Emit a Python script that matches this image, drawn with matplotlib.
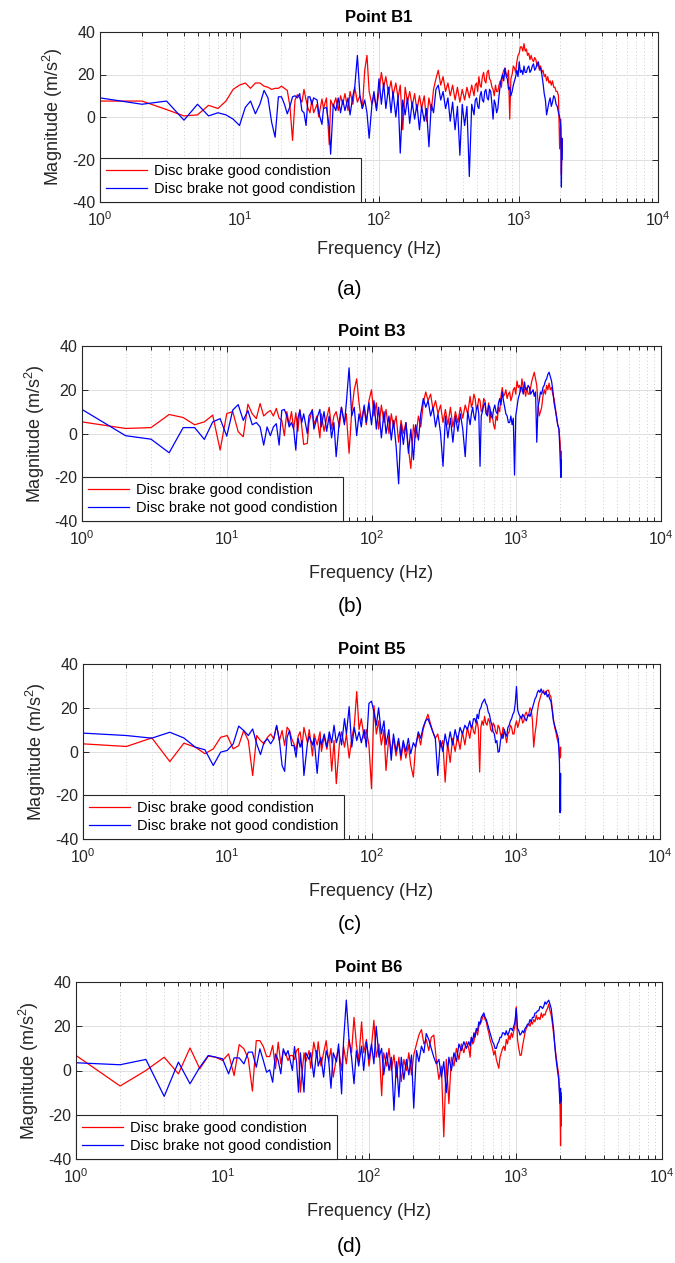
import matplotlib
matplotlib.use("Agg")
import matplotlib.pyplot as plt
from matplotlib.ticker import LogLocator, NullFormatter, FixedLocator

plt.rcParams['font.family'] = ['Liberation Sans', 'DejaVu Sans']
plt.rcParams['mathtext.fontset'] = 'custom'
plt.rcParams['mathtext.rm'] = 'Liberation Sans'
plt.rcParams['mathtext.it'] = 'Liberation Sans:italic'
plt.rcParams['mathtext.bf'] = 'Liberation Sans:bold'
plt.rcParams['axes.unicode_minus'] = False

# ---------------- data ----------------
freq = [
    1, 2, 3, 4, 5, 6, 7, 8, 9, 10,
    11, 12, 13, 14, 15, 16, 17, 18, 19, 20,
    21, 22, 23, 24, 25, 26, 27, 28, 29, 30,
    31, 32, 33, 34, 36, 37, 39, 40, 42, 44,
    45, 47, 49, 51, 53, 55, 57, 60, 62, 65,
    67, 70, 73, 76, 79, 82, 85, 89, 92, 96,
    100, 104, 108, 112, 117, 122, 126, 132, 137, 142,
    148, 154, 160, 166, 173, 180, 187, 195, 202, 211,
    219, 228, 237, 246, 256, 266, 277, 288, 300, 312,
    324, 337, 351, 365, 380, 395, 411, 427, 444, 462,
    480, 490, 500, 510, 520, 530, 540, 551, 562, 573,
    584, 596, 608, 620, 632, 645, 657, 670, 684, 697,
    711, 725, 740, 754, 769, 784, 800, 816, 832, 848,
    865, 882, 900, 918, 936, 954, 973, 992, 1012, 1032,
    1053, 1074, 1095, 1117, 1139, 1161, 1184, 1208, 1232, 1256,
    1281, 1306, 1332, 1359, 1386, 1413, 1441, 1470, 1499, 1529,
    1559, 1590, 1621, 1653, 1686, 1719, 1753, 1788, 1824, 1860,
    1896, 1934, 1972, 2010, 2030, 2045, 2048]

b1_good = [
    7.5, 7.5, 3.5, 0.5, 1, 5.5, 4, 7.5, 13, 15,
    16, 13.5, 16, 16, 14.5, 14, 13, 13.5, 13.5, 14.5,
    13.5, 12.5, 5, -11, 8, 10.5, 9, 7, 13, 8,
    4, 2, 8, 2, 6, 0, 8.5, 4, 9, -13,
    8, 5, 9, 3, 10, 6, 11, 3, 12, 6,
    14, 7, 10, 4, 22, 29, 12, 6, 10, 4,
    12, 21, 14, 19, 11, 17, 10, 16, 9, 15,
    -6, 14, 7, 12, 5, 11, 3, 10, 4, 10,
    -2, 9, 3, 13, 18, 22, 15, 19, 12, 16,
    10, 15, 8, 14, 7, 13, 8, 14, 9, 15,
    10, 15, 16, 12, 19, 15, 14, 19, 21, 17,
    16, 21, 22, 18, 17, 14, 13, 10, 15, 12,
    12, 15, 17, 14, 20, 22, 23, 20, 19, 22,
    -1, 18, 20, 24, 23, 21, 26, 29, 30, 33,
    33, 31, 34.5, 31, 32, 29, 30, 27, 29, 27,
    26, 28, 27, 24, 25, 22, 24, 21, 22, 19,
    20, 17, 19, 16, 17, 15, 17, 14, 14, 12,
    12, 10, -15, -1, -27, -10, -17]
b1_bad = [
    9, 6, 7.5, -1.5, 6, 0.5, 2, 1, -1, -4,
    4.5, 7.5, 1.5, 6, 12.5, 9, -2.5, -9.5, 9.5, 9.5,
    6, 1.5, 5, 9.5, 10, 9, 11, 3, 2, -4,
    9.5, 9.5, 6, 9, 8, 2, -3.5, 4, 4.5, -5,
    -17.5, 6, 3, 9, 2, 8, 3, 9, 1, 10,
    14, 29, 10, 4, 8, 2, -10, 6, 12, 3,
    18, 6, 16, 4, 14, 2, 12, 0, 10, -17,
    8, 1, 9, -3, 7, -1, 6, -6, 5, -2,
    4, -14, 6, 2, 13, 15, 8, 12, 4, 9,
    -2, 7, -6, 5, -18, 6, -4, 5, -28, 6,
    1, 8, 9, 5, 4, 10, 12, 8, 7, 12,
    13, 9, 8, 13, 12, 6, -1, 8, 6, 2,
    4, 10, 15, 18, 20, 17, 23, 19, 18, 13,
    14, 10, 12, 15, 17, 19, 22, 19, 26, 21,
    22, 20, 24, 21, 21, 23, 24, 21, 22, 24,
    25, 22, 23, 25, 26, 23, 23, 20, 16, 11,
    8, 1, 4, 7, 9, 5, 7, 10, 9, 6,
    5, 2, 0, -5, -33, -10, -20]

b3_good = [
    5.3, 2.3, 2.7, 8.7, 7.3, 4, 5.3, 8.4, -7.6, 9.1,
    10, 0.8, -1.5, 13.4, 9, 6.8, 13.7, 8, 9.5, 10.5,
    8, 11.5, 7, 6, -1, 10, 4, 10, 2, 9.5,
    1, 11, 3, -5, -4.5, 5, 11, 4, 8, -2,
    9, 1, 7, 12, 2, 8, 10, 3, 12, 5,
    9, -9, 10, 20, 25, 14, 6, 12, 4, 15,
    20, 8, 14, 2, 13, 5, 11, 0, 9, 3,
    8, -4, 6, 0, 5, -7, -16, 4, -2, 8,
    3, 14, 19, 15, 18, 11, 15, 9, 13, 5,
    11, 4, 12, 3, 10, 5, 12, 7, 13, 9,
    17, 12, 14, 18, 16, 11, 12, 16, 15, 10,
    11, 16, 15, 9, 10, 14, 5, 10, 8, 4,
    2, 8, 6, 12, 10, 17, 21, 17, 18, 20,
    16, 18, 19, 15, 17, 20, 21, 18, 24, 21,
    22, 19, 25, 21, 20, 17, 21, 18, 18, 21,
    24, 26, 28, 25, 22, 14, 8, 10, 12, 17,
    20, 18, 22, 20, 23, 20, 21, 18, 16, 12,
    8, 4, 2, -4, -18, -8, -20]
b3_bad = [
    11, -1, -2.6, -8.8, 2.7, 2.7, -2.7, 5.3, 6.8, -1.2,
    10.7, 13.2, 6, 10.5, 4, 5, 3, -5.3, 3, -1,
    3, 4.5, -5.3, 10.6, 11, 8, 3, 5, 2, -7.6,
    7, 10.5, 5, 9, 0, 8, 10.6, 2, 7, 11,
    3, 10, 1, 8, -2, 5, -10.6, 6, 12, 4,
    14, 30, 8, 12, -1, 9, 3, 13, 5, 14,
    4, 15, 2, 12, -2, 10, 0, 8, -3, 6,
    -6, -23, 4, -5, 5, -9, 2, -12, 4, -3,
    9, 16, 12, 15, 8, 12, 3, 9, 0, -15,
    8, -2, 7, -4, 8, 1, 9, 2, -10.6, 10,
    4, 9, 12, 8, 6, 11, 13, 9, -15, 8,
    10, 13, 14, 9, 8, 13, 12, 8, 7, 11,
    13, 10, 9, 14, 16, 13, 19, 15, 12, 9,
    8, 5, 5, 8, 4, 7, -19, 8, 12, 16,
    18, 21, 21, 18, 23.6, 20, 20, 22, 21, 18,
    19, 20, 17, 19, -4, 12, 15, 19, 18, 21,
    22, 24, 25, 27, 28, 26, 24, 20, 14, 11,
    7.6, 4, 2, -10, -20, -12, -18]

b5_good = [
    3.5, 2.3, 6.2, -4.6, 3.8, 2, -1, 1.2, 6.5, 7.3,
    1.2, 2.7, 9.6, 5, -11, 7.3, 5, 3.5, 6.5, 8,
    5.8, 11.9, 5, 9.6, 2.7, 11.1, 9.6, 5.8, 3.5, 0.5,
    7, 9, 2, 11, 4, 10, -2, 8, 3, 9,
    0, 7, 1, 8, -9, 5, -14.7, 4, 9, 2,
    8, -3, 6, 12, 27.4, 10, 15, 6, 10, 3,
    -17, 21, 8, 14, 3, 10, -8.7, 7, 0, 6,
    -2, 5, -4, 4, -3, 3, -6, -11.7, 2, 8,
    3, 10, 14, 17, 13, 9, 6, 8, 2, 5,
    -14, 4, -5, 6, 0, 7, 1, 9, 3, 11,
    6, 10, 12, 9, 8, 12, 14, 10, -9.4, 11,
    14, 12, 16, 13, 12, 15, 14, 10, 9, 13,
    12, 9, 8, 12, 11, 8, 6, 11, 10, 7,
    4, 8, 9, 12, 11, 8, 8, 12, 14, 11,
    13, 16, 16, 13, 14, 17, 18, 16, 17, 20,
    19, 14, 2, 8, 12, 18, 22, 24, 26, 27,
    28, 26, 27, 28, 28, 26, 25, 20, 15, 11,
    9, 6, 4, 0, -3, 2, -2]
b5_bad = [
    8.4, 7.3, 6.1, 8.8, 6.2, 2, 0.8, -6.4, -0.3, 0.5,
    3.5, 11.6, 9.6, 7.3, 10.3, 3.5, -1.4, 4.3, 5.8, 3.5,
    5.8, 11.9, 5, -6.4, -9.1, 6.5, 9.6, 2.7, 2.7, -2.6,
    6, 2, 5, -11, 4, 7, 3, 6, -10, 6,
    3, 8, 2, 9, 4, 12, 4, 9, 3, 15,
    8, 20.5, 2, 11, 5, 9, 4, 10, 2, 22,
    23, 18, 12, 20, 8, 14, 3, 10, -4, 8,
    0, 6, -2, 5, 0, 6, -1, 4, 2, 9,
    6, 11, 14, 15, 12, 9, 6, -11, 5, 0,
    8, 2, 9, 3, 10, 5, 11, 8, 12, 10,
    14, 11, 12, 15, 15, 13, 17, 15, 19, 20,
    22, 23, 24, 22, 21, 18, 17, 14, 12, 9,
    8, 4, 5, -0.3, 0, 5, 8, 6, 10, 8,
    7, 11, 12, 14, 15, 17, 18, 22, 29.7, 19,
    17, 16, 15, 17, 16, 15, 14, 16, 17, 16,
    18, 20, 22, 24, 25, 27, 28, 27, 28.6, 27,
    27, 26, 27.5, 25, 26, 24, 23, 19, 14, 12,
    10, 8, 6, -5, -28, -10, -27]

b6_good = [
    6.8, -7, 0, 6, -1.5, 10.2, 0.8, 6.5, 6, 4.5,
    7.5, -2.3, 11.7, 9.8, 5.3, -9.3, 13.5, 13.5, 10.8, 6.3,
    6.3, 11.3, 0.8, 12.8, 3, 9, 7.5, 4.5, 6.8, 6.8,
    5, 9, 10, -9.8, 8, 4, 9, 1, 12.8, 6,
    13, 2, 8, 13.5, 4, 10, -3, 6, 10, 0,
    11, 3, 14, 8, 24, 12, 4, 22, 8, 14,
    2, 11, 22.7, 6, 12, -11.4, 8, 2, 10, 0,
    7, -3, 6, -5, 5, 0, 8, -2, 7, 12,
    16, 18.5, 12, 14, 9, 15, 16, 5, -4, 2,
    -30, 5, -15, 6, 2, 10, 5, 12, 8, 13,
    10, 6, 15, 12, 13, 17, 18, 16, 20, 21,
    22, 24, 25, 23, 22, 19, 17, 14, 12, 10,
    7, 9, 5, 3, 1, 6, 8, 10, 11, 9,
    14, 12, 16, 14, 17, 15, 18, 20, 28.8, 14,
    10, 6.8, 7, 11, 14, 17, 19, 20, 21, 20,
    22, 21, 23, 22, 25, 23, 24, 23, 26, 24,
    25.5, 25, 27, 28, 30, 27, 25, 21, 16, 11,
    6, 2, -2, -12, -34, -10, -25]
b6_bad = [
    3.5, 2.6, 5, -11.7, 3.8, -6, 1.5, 6.8, 6, 5.3,
    -1.5, 5.7, 5.7, 3, 8.3, 8.3, 1.5, 9.8, 4.5, -0.8,
    0.3, -5.3, 7.5, 4.5, -1.5, 9.8, 6.8, 9, 4.5, 0,
    10.8, 4, -9.8, 8, -9.8, 8, 5, 8, -3, 9,
    2, 6, -3, 9, 5, -8, 8, 4, 12, -10.6,
    13, 31.8, 14, 6, -6, 9, 2, 11, 0, 13,
    5, 12, 3, 20, 6, 10, -2, 8, 0, 6,
    -18, 4, -12, 6, -4, 5, -2, 7, -17, 9,
    4, 11, 8, 16.7, 14, 10, 6, 3, 5, -3,
    4, -10, 6, 0, 8, 4, 12, 9, 13, 10,
    13, 11, 15, 13, 17, 15, 19, 18, 22, 21,
    24, 25, 26, 24, 23, 21, 19, 17, 15, 13,
    12, 10, 10, 12, 13, 15, 15, 17, 17, 16,
    18, 16, 17, 19, 19, 18, 20, 22, 28, 19,
    18, 16, 16.7, 18, 17, 19, 19.7, 21, 21, 23,
    22, 24, 24, 26, 26, 27, 27, 29, 28.8, 28,
    29, 31, 30, 31, 31.8, 30, 28, 23, 18, 10,
    4.5, 0, -4, -15, -8, -14, -12]

titles = ["Point B1", "Point B3", "Point B5", "Point B6"]
panel_tags = ["(a)", "(b)", "(c)", "(d)"]
legend_labels = ["Disc brake good condistion", "Disc brake not good condistion"]
y_ticks = [-40, -20, 0, 20, 40]

# ---------------- layout ----------------
W, H = 675, 1263
fig = plt.figure(figsize=(W / 100, H / 100), dpi=100)

# axes boxes in pixels: left, right, top, bottom
boxes = [
    (100, 658, 32, 202),
    (82, 661, 346, 521),
    (83, 660, 664, 839),
    (76, 662, 982, 1159),
]
tag_y = [290, 607, 925, 1247]
xlabel_off = [48, 53, 52, 53]

series = [(b1_good, b1_bad), (b3_good, b3_bad), (b5_good, b5_bad), (b6_good, b6_bad)]
dark = '#262626'

for i, (l, r, t, b) in enumerate(boxes):
    ax = fig.add_axes([l / W, 1 - b / H, (r - l) / W, (b - t) / H])
    good, bad = series[i]
    ax.plot(freq, good, color='#ff0000', lw=0.9, label=legend_labels[0])
    ax.plot(freq, bad, color='#0000ff', lw=0.9, label=legend_labels[1])
    ax.set_xscale('log')
    ax.set_xlim(1, 1e4)
    ax.set_ylim(-40, 40)
    ax.yaxis.set_major_locator(FixedLocator(y_ticks))
    ax.xaxis.set_major_locator(LogLocator(base=10, numticks=10))
    ax.xaxis.set_minor_locator(LogLocator(base=10, subs=[2, 3, 4, 5, 6, 7, 8, 9], numticks=50))
    ax.xaxis.set_minor_formatter(NullFormatter())
    ax.tick_params(which='both', direction='in', top=True, right=True,
                   colors=dark, labelsize=11.5, width=0.7)
    ax.tick_params(which='major', length=4.5)
    ax.tick_params(which='minor', length=3)
    ax.tick_params(axis='x', pad=6)
    for s in ax.spines.values():
        s.set_color(dark)
        s.set_linewidth(0.8)
    ax.set_axisbelow(True)
    ax.grid(True, which='major', color='#dedede', lw=0.7, ls='-')
    ax.grid(True, which='minor', axis='x', color='#bdbdbd', lw=0.6, ls=(0, (1, 3)))
    ax.set_title(titles[i], fontsize=12, fontweight='bold', pad=7, color='black')
    ax.set_xlabel("Frequency (Hz)", fontsize=13, color=dark)
    ax.set_ylabel("Magnitude (m/s$^2$)", fontsize=13, color=dark)
    hpx = b - t
    wpx = r - l
    ax.xaxis.set_label_coords(0.5, -xlabel_off[i] / hpx)
    ax.xaxis.label.set_verticalalignment('center')
    ax.yaxis.set_label_coords(-47 / wpx, 0.5)
    ax.yaxis.label.set_verticalalignment('center')
    leg = ax.legend(loc='lower left', fontsize=10.5, borderaxespad=0, fancybox=False,
                    framealpha=1, edgecolor=dark, handlelength=2.8, handletextpad=0.5,
                    borderpad=0.4, labelspacing=0.3)
    leg.get_frame().set_linewidth(0.8)
    fig.text(350 / W, 1 - tag_y[i] / H, panel_tags[i], fontsize=15, ha='center', va='center')

fig.savefig("out.png", dpi=100)
